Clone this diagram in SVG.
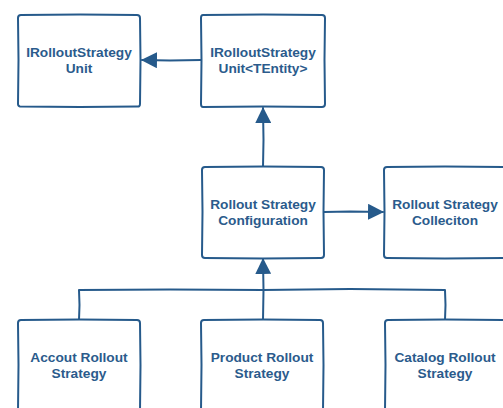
<svg xmlns="http://www.w3.org/2000/svg" width="503" height="408" viewBox="0 0 503 408">
<defs>
<style>
.box{fill:#ffffff;stroke:#265a8b;stroke-width:2;stroke-linejoin:round;stroke-linecap:round}
.edge{fill:none;stroke:#265a8b;stroke-width:2;stroke-linecap:round;stroke-linejoin:round}
.t{font-family:"Liberation Sans",Arial,sans-serif;font-weight:bold;font-size:13.7px;fill:#2b5b8c;text-anchor:middle}
</style>
<marker id="ah" viewBox="0 0 16 16" refX="15" refY="8" markerWidth="16" markerHeight="16" markerUnits="userSpaceOnUse" orient="auto">
<path d="M0,0 L16,8 L0,16 Z" fill="#265a8b"/>
</marker>
</defs>
<rect width="503" height="408" fill="#ffffff"/>
<g id="connectors">
<path class="edge" d="M201,60 L170,60.5 L142,60" marker-end="url(#ah)"/>
<path class="edge" d="M263,167 L263.5,140 L263,108" marker-end="url(#ah)"/>
<path class="edge" d="M324,212 L350,211.5 L383,212" marker-end="url(#ah)"/>
<path class="edge" d="M79,320 L79.5,305 L79,290 L170,289.5 L263,290 L350,289 L445,290 L445.5,305 L445,320"/>
<path class="edge" d="M263,320 L263.5,290 L263,259" marker-end="url(#ah)"/>
</g>
<g id="n1">
<path class="box" d="M21,15 L80,14.5 L137,15 Q140,15 140,18 L140.5,60 L140,104 Q140,107 137,106.5 L80,107 L20,106.5 Q18,106 18,104 L18.5,60 L18,18 Q18,15 21,15 Z"/>
<text class="t" x="79" y="57">IRolloutStrategy</text>
<text class="t" x="79" y="73">Unit</text>
</g>
<g id="n2">
<path class="box" d="M203,15 L263,14.5 L322,15 Q325,15 325,18 L324.5,60 L325,104 Q325,107 322,107 L263,106.5 L203,107 Q201,107 201,104 L201.5,60 L201,18 Q201,15 203,15 Z"/>
<text class="t" x="263" y="57">IRolloutStrategy</text>
<text class="t" x="263" y="73">Unit&lt;TEntity&gt;</text>
</g>
<g id="n3">
<path class="box" d="M205,167 L263,166.5 L321,167 Q324,167 324,170 L323.5,212 L324,255 Q324,258 321,258 L263,258.5 L205,258 Q202,258 202,255 L202.5,212 L202,170 Q202,167 205,167 Z"/>
<text class="t" x="263" y="209">Rollout Strategy</text>
<text class="t" x="263" y="225">Configuration</text>
</g>
<g id="n4">
<path class="box" d="M387,167 L445,166.5 L504,167 L510,167 L510,258 L445,258.5 L387,258 Q384,258 384,255 L384.5,212 L384,170 Q384,167 387,167 Z"/>
<text class="t" x="445" y="209">Rollout Strategy</text>
<text class="t" x="445" y="225">Colleciton</text>
</g>
<g id="n5">
<path class="box" d="M18,412 L18.5,365 L18,323 Q18,320 21,320 L79,319.5 L137,320 Q140,320 140,323 L140.5,365 L140,412"/>
<text class="t" x="79" y="362">Accout Rollout</text>
<text class="t" x="79" y="378">Strategy</text>
</g>
<g id="n6">
<path class="box" d="M201,412 L201.5,365 L201,323 Q201,320 204,320 L263,319.5 L320,320 Q323,320 323,323 L323.5,365 L323,412"/>
<text class="t" x="262" y="362">Product Rollout</text>
<text class="t" x="262" y="378">Strategy</text>
</g>
<g id="n7">
<path class="box" d="M385,412 L385.5,365 L385,323 Q385,320 388,320 L445,319.5 L510,320"/>
<text class="t" x="445" y="362">Catalog Rollout</text>
<text class="t" x="445" y="378">Strategy</text>
</g>
</svg>
